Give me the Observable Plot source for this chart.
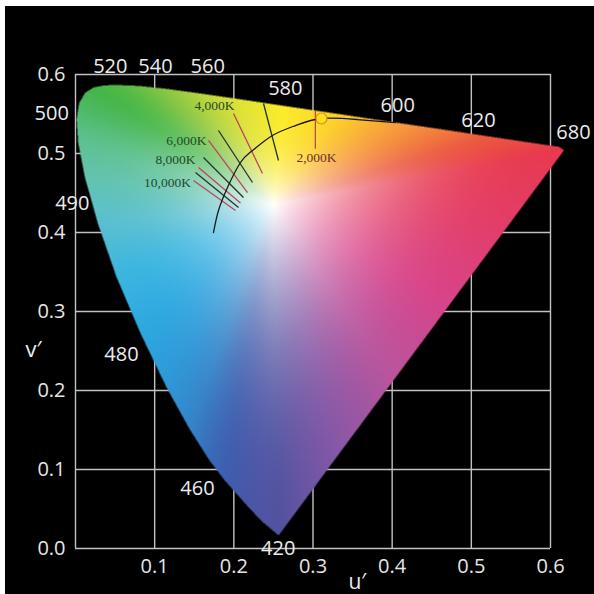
<!DOCTYPE html>
<html><head><meta charset="utf-8">
<script src="https://cdn.jsdelivr.net/npm/d3@7"></script>
<script src="https://cdn.jsdelivr.net/npm/@observablehq/plot@0.6"></script>
<style>
html,body{margin:0;padding:0;background:#fff;}
#chart{position:absolute;left:5px;top:6px;}
</style></head><body><div id="chart"></div>
<script>
// Spectral locus (CIE 1976 u'v')
const wavelengths = [420, 440, 450, 460, 465, 470, 475, 480, 485, 490, 495, 500, 505, 510, 515, 520, 525, 530, 540, 550, 560, 570, 580, 590, 600, 610, 620, 640, 660, 680];
const locusU = [0.2565, 0.2347, 0.2161, 0.1877, 0.1690, 0.1441, 0.1147, 0.0828, 0.0521, 0.0282, 0.0119, 0.0035, 0.0014, 0.0046, 0.0123, 0.0231, 0.0360, 0.0501, 0.0792, 0.1127, 0.1531, 0.2026, 0.2624, 0.3315, 0.4035, 0.4692, 0.5203, 0.5830, 0.6109, 0.6170];
const locusV = [0.0165, 0.0350, 0.0549, 0.0871, 0.1119, 0.1510, 0.2044, 0.2708, 0.3427, 0.4117, 0.4698, 0.5131, 0.5432, 0.5638, 0.5770, 0.5837, 0.5861, 0.5868, 0.5856, 0.5821, 0.5766, 0.5694, 0.5604, 0.5501, 0.5393, 0.5296, 0.5219, 0.5125, 0.5084, 0.5040];
const locusColors = ["#5152a0", "#4f55a5", "#4a57a8", "#3f5eaf", "#3a6bb8", "#3584c9", "#2f98d8", "#2ca8e0", "#3bb5e0", "#5bc0d0", "#62c3b0", "#5fc196", "#55bd7a", "#4cb962", "#47b752", "#45b649", "#4ab847", "#52b946", "#6abf45", "#8bc744", "#b3d43f", "#dfe236", "#fbec2a", "#fcd22b", "#f8a33a", "#f17a3d", "#ec5b40", "#e94645", "#e83d4b", "#e8394f"];
// line of purples, from 680 back to 420
const purpleT = [0.2, 0.4, 0.6, 0.8];
const purpleColors = ["#e23e6a", "#d8448a", "#b9559e", "#8458a6"];
const whitePoint = [0.25, 0.435];

const xTicks = [0.1, 0.2, 0.3, 0.4, 0.5, 0.6];
const yTicks = [0, 0.1, 0.2, 0.3, 0.4, 0.5, 0.6];
const gridXValues = [0, 0.1, 0.2, 0.3, 0.4, 0.5, 0.6];

const waveLabels = ["520", "540", "560", "580", "600", "620", "680", "500", "490", "480", "460", "420"];
const waveLabelU = [0.044, 0.101, 0.167, 0.265, 0.407, 0.509, 0.629, -0.030, -0.004, 0.058, 0.154, 0.256];
const waveLabelV = [0.610, 0.610, 0.610, 0.582, 0.561, 0.542, 0.527, 0.551, 0.437, 0.246, 0.076, 0.000];

// Planckian locus
const planckU = [0.1743, 0.1806, 0.1920, 0.2084, 0.2236, 0.2488, 0.2779, 0.3107, 0.3562, 0.4042];
const planckV = [0.4000, 0.4278, 0.4570, 0.4886, 0.5038, 0.5228, 0.5354, 0.5443, 0.5430, 0.5392];

// isotherm lines
const isoKind = ["dark", "red", "dark", "red", "dark", "red", "dark", "red", "red"];
const isoU1 = [0.2375, 0.1996, 0.1806, 0.1680, 0.1617, 0.1554, 0.1516, 0.1490, 0.3030];
const isoV1 = [0.5633, 0.5506, 0.5291, 0.5165, 0.4949, 0.4823, 0.4759, 0.4658, 0.5540];
const isoU2 = [0.2564, 0.2362, 0.2236, 0.2173, 0.2122, 0.2084, 0.2059, 0.2021, 0.3030];
const isoV2 = [0.4911, 0.4747, 0.4633, 0.4506, 0.4443, 0.4373, 0.4316, 0.4278, 0.5060];

const cctLabels = ["4,000K", "6,000K", "8,000K", "10,000K", "2,000K"];
const cctLabelU = [0.1756, 0.1400, 0.1263, 0.1162, 0.3044];
const cctLabelV = [0.5610, 0.5160, 0.4920, 0.4630, 0.4950];

const dotU = [0.3107];
const dotV = [0.5443];

// ---- build boundary for the colour fill
const verts = wavelengths.map((w, i) => ({u: locusU[i], v: locusV[i], c: d3.rgb(locusColors[i])}));
const last = verts[verts.length - 1], first = verts[0];
purpleT.forEach((t, i) => verts.push({u: last.u + (first.u - last.u) * t, v: last.v + (first.v - last.v) * t, c: d3.rgb(purpleColors[i])}));
const nV = verts.length;
const [wu, wv] = whitePoint;

function colorAt(x, y) {
  const dx = x - wu, dy = y - wv;
  if (dx === 0 && dy === 0) return "#ffffff";
  let best = Infinity, bi = -1, bs = 0;
  for (let i = 0; i < nV; ++i) {
    const A = verts[i], B = verts[(i + 1) % nV];
    const ex = B.u - A.u, ey = B.v - A.v;
    const den = dx * ey - dy * ex;
    if (Math.abs(den) < 1e-12) continue;
    const wx = A.u - wu, wy = A.v - wv;
    const t = (wx * ey - wy * ex) / den;
    const s = (wx * dy - wy * dx) / den;
    if (s >= 0 && s <= 1 && t > 0 && t < best) { best = t; bi = i; bs = s; }
  }
  if (bi < 0 || best < 1) return null;
  const f = 1 / best;
  const A = verts[bi].c, B = verts[(bi + 1) % nV].c;
  const cr = A.r + (B.r - A.r) * bs, cg = A.g + (B.g - A.g) * bs, cb = A.b + (B.b - A.b) * bs;
  const sat = 1 - Math.pow(1 - f, 2.3);
  const r = 255 + (cr - 255) * sat, g = 255 + (cg - 255) * sat, b = 255 + (cb - 255) * sat;
  return `rgb(${Math.round(r)},${Math.round(g)},${Math.round(b)})`;
}

const chart = Plot.plot({
  width: 589, height: 588,
  marginLeft: 70, marginRight: 44, marginTop: 68, marginBottom: 46,
  x: {domain: [0, 0.6]},
  y: {domain: [0, 0.6]},
  style: {background: "#000", color: "#e8e8e8", fontFamily: "'Open Sans', sans-serif"},
  marks: [
    Plot.gridX(gridXValues, {stroke: "#c2c2c2", strokeOpacity: 1, strokeWidth: 1.4}),
    Plot.gridY(yTicks, {stroke: "#c2c2c2", strokeOpacity: 1, strokeWidth: 1.4}),
    Plot.raster({fill: colorAt, x1: 0, x2: 0.63, y1: 0, y2: 0.6, width: 998, height: 948, imageRendering: "auto"}),
    Plot.axisX(xTicks, {tickSize: 0, tickPadding: 10, fontSize: 20, fill: "#e6e6e6", label: null, tickFormat: d3.format(".1f")}),
    Plot.axisY(yTicks, {tickSize: 0, tickPadding: 10, fontSize: 20, fill: "#e6e6e6", label: null, tickFormat: d3.format(".1f")}),
    Plot.link(isoKind, {x1: (d, i) => isoU1[i], y1: (d, i) => isoV1[i], x2: (d, i) => isoU2[i], y2: (d, i) => isoV2[i],
      stroke: (d) => d === "red" ? "#b8485e" : "#26332e", strokeWidth: 1.3}),
    Plot.line(planckU, {x: (d) => d, y: (d, i) => planckV[i], stroke: "#1a1a1a", strokeWidth: 1.3, curve: "natural"}),
    Plot.dot(dotU, {x: (d) => d, y: (d, i) => dotV[i], r: 5.5, fill: "#ffe01a", stroke: "#e8871e", strokeWidth: 1.2}),
    Plot.text(cctLabels, {x: (d, i) => cctLabelU[i], y: (d, i) => cctLabelV[i], text: (d) => d,
      fontFamily: "'Liberation Serif', serif", fontSize: 13.5, fill: (d, i) => i < 4 ? "#1f4a2c" : "#6e2f2f"}),
    Plot.text(waveLabels, {x: (d, i) => waveLabelU[i], y: (d, i) => waveLabelV[i], text: (d) => d, fontSize: 20, fill: "#ececec"}),
    Plot.text(["u′"], {x: () => 0.356, y: () => -0.043, text: (d) => d, fontSize: 21, fill: "#ececec"}),
    Plot.text(["v′"], {x: () => -0.053, y: () => 0.251, text: (d) => d, fontSize: 22, fill: "#ececec"})
  ]
});
document.getElementById("chart").appendChild(chart);
</script>
</body></html>
